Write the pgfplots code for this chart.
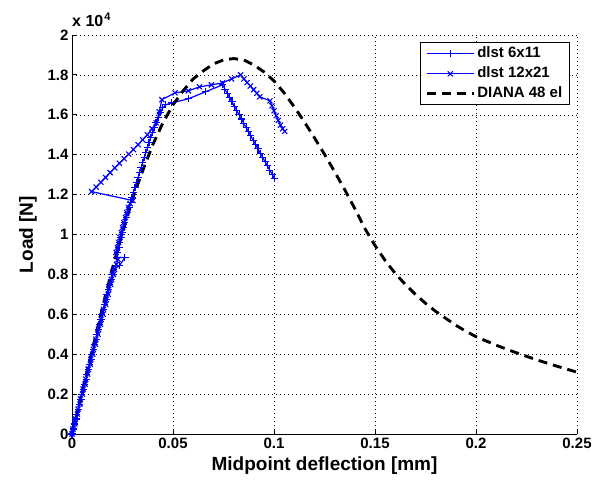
\documentclass[border=0pt]{standalone}
\usepackage{fontspec}
\setmainfont{Liberation Sans}
\usepackage{pgfplots}
\pgfplotsset{compat=1.18}
\definecolor{mblue}{RGB}{0,0,255}

\begin{document}
\begin{tikzpicture}
\begin{axis}[
    scale only axis, width=505pt, height=399pt,
    xmin=0, xmax=0.25, ymin=0, ymax=20000,
    scaled x ticks=false, scaled y ticks=false,
    axis x line=bottom, axis y line=left, axis line style={-, line width=0.8pt},
    tick align=inside, major tick length=5pt, tick style={black, line width=0.8pt},
    xtick={0,0.05,0.1,0.15,0.2,0.25},
    xticklabels={0,0.05,0.1,0.15,0.2,0.25},
    ytick={0,2000,4000,6000,8000,10000,12000,14000,16000,18000,20000},
    yticklabels={0,0.2,0.4,0.6,0.8,1,1.2,1.4,1.6,1.8,2},
    tick label style={font=\bfseries\fontsize{15}{17}\selectfont},
    grid=major,
    grid style={black, line width=0.6pt, dash pattern=on 0.6pt off 3.4pt},
    xlabel={Midpoint deflection [mm]},
    ylabel={Load [N]},
    label style={font=\bfseries\fontsize{19}{22}\selectfont},
    xlabel style={at={(axis description cs:0.5,0)}, anchor=base, yshift=-36pt},
    ylabel style={at={(axis description cs:-0.087,0.5)}, anchor=center},
    legend style={font=\bfseries\fontsize{15}{17}\selectfont, draw=black, line width=1.3pt,
        at={(0.986,0.982)}, anchor=north east, inner xsep=5pt, inner ysep=1pt,
        nodes={text height=11pt, text depth=3pt, inner ysep=3pt, inner xsep=2pt},
        cells={anchor=west}},
    legend image code/.code={\draw[mark repeat=2,mark phase=2,#1] plot coordinates {(0pt,0pt) (23.5pt,0pt) (47pt,0pt)};},
]
% dlst 6x11
\addplot[mblue, line width=1.2pt, mark=+, mark size=3.6pt, mark options={solid, line width=1.1pt}] coordinates {
(0,0) (0.0008,250) (0.0011,500) (0.0020,750) (0.0023,1000) (0.0033,1250)
(0.0036,1500) (0.0045,1750) (0.0048,2000) (0.0058,2250) (0.0060,2500)
(0.0070,2750) (0.0072,3000) (0.0082,3250) (0.0085,3500) (0.0095,3750)
(0.0097,4000) (0.0107,4250) (0.0110,4500) (0.0120,4750) (0.0122,5000)
(0.0132,5250) (0.0135,5500) (0.0144,5750) (0.0147,6000) (0.0157,6250)
(0.0160,6500) (0.0169,6750) (0.0172,7000) (0.0182,7250) (0.0185,7500)
(0.0194,7750) (0.0198,8000) (0.0206,8250) (0.0236,8450) (0.0262,8850)
(0.0222,8850) (0.0227,9100) (0.0233,9350) (0.0236,9600) (0.0243,9850)
(0.0249,10100) (0.0256,10350) (0.0261,10600) (0.0269,10850) (0.0275,11100)
(0.0283,11350) (0.0289,11600) (0.0297,11850) (0.0303,12100) (0.0312,12350)
(0.0318,12600) (0.0327,12850) (0.0334,13100) (0.0342,13350) (0.0349,13600)
(0.0358,13850) (0.0365,14100) (0.0374,14350) (0.0381,14600) (0.0390,14850)
(0.0398,15100) (0.0408,15350) (0.0416,15600) (0.0427,15850) (0.0437,16100)
(0.0450,16350) (0.0465,16500) (0.0494,16600) (0.0576,16800) (0.0660,17150)
(0.0745,17500) (0.0757,17290) (0.0768,17070) (0.0780,16860) (0.0792,16650)
(0.0803,16430) (0.0815,16220) (0.0827,16000) (0.0839,15790) (0.0850,15580)
(0.0862,15360) (0.0874,15150) (0.0885,14940) (0.0897,14720) (0.0909,14510)
(0.0921,14290) (0.0932,14080) (0.0944,13870) (0.0956,13650) (0.0967,13440)
(0.0979,13230) (0.0991,13010) (0.1003,12800)
};
\addlegendentry{dlst 6x11}
% dlst 12x21
\addplot[mblue, line width=1.2pt, mark=x, mark size=3.6pt, mark options={solid, line width=1.1pt}] coordinates {
(0,0) (0.0005,250) (0.0014,500) (0.0017,750) (0.0027,1000) (0.0030,1250)
(0.0040,1500) (0.0042,1750) (0.0052,2000) (0.0055,2250) (0.0065,2500)
(0.0068,2750) (0.0078,3000) (0.0080,3250) (0.0091,3500) (0.0093,3750)
(0.0103,4000) (0.0106,4250) (0.0116,4500) (0.0118,4750) (0.0129,5000)
(0.0131,5250) (0.0141,5500) (0.0144,5750) (0.0154,6000) (0.0156,6250)
(0.0167,6500) (0.0169,6750) (0.0179,7000) (0.0182,7250) (0.0192,7500)
(0.0195,7750) (0.0205,8000) (0.0211,8250) (0.0220,8500) (0.0228,8750)
(0.0218,9100) (0.0225,9350) (0.0231,9600) (0.0238,9850) (0.0244,10100)
(0.0251,10350) (0.0257,10600) (0.0264,10850) (0.0271,11100) (0.0279,11350)
(0.0288,11550) (0.0302,11700) (0.0097,12150)
(0.0120,12380) (0.0143,12620) (0.0166,12860) (0.0189,13100) (0.0212,13340)
(0.0235,13570) (0.0258,13800) (0.0281,14030) (0.0304,14260) (0.0327,14500)
(0.0350,14750) (0.0373,15000) (0.0396,15300) (0.0417,15600) (0.0432,16150)
(0.0445,16760) (0.0510,17100) (0.0576,17200) (0.0631,17400) (0.0690,17500)
(0.0745,17600) (0.0790,17800) (0.0835,18000) (0.0851,17800) (0.0867,17620)
(0.0883,17440) (0.0899,17260) (0.0915,17080) (0.0930,16900) (0.0980,16700)
(0.0990,16450) (0.1000,16200) (0.1011,15960) (0.1021,15720) (0.1032,15480)
(0.1043,15300) (0.1053,15170)
};
\addlegendentry{dlst 12x21}
% DIANA 48 el
\addplot[black, line width=2.9pt, dash pattern=on 9pt off 6pt] coordinates {
(0,0) (0.005,2100) (0.01,4200) (0.015,6300) (0.02,8300) (0.025,10100)
(0.03,11800) (0.035,13200) (0.04,14500) (0.045,15600) (0.05,16500)
(0.055,17200) (0.06,17800) (0.065,18200) (0.07,18550) (0.075,18750)
(0.08,18820) (0.085,18750) (0.09,18500) (0.095,18150) (0.1,17700)
(0.105,17100) (0.11,16400) (0.115,15650) (0.12,14850) (0.125,14020)
(0.13,13150) (0.135,12250) (0.14,11300) (0.145,10300) (0.15,9450)
(0.155,8700) (0.16,8050) (0.165,7500) (0.17,7000) (0.175,6550)
(0.18,6150) (0.185,5800) (0.19,5450) (0.195,5150) (0.2,4880)
(0.21,4450) (0.22,4070) (0.23,3720) (0.24,3400) (0.25,3100)
};
\addlegendentry{DIANA 48 el}
\end{axis}
\node[anchor=base west, font=\bfseries\fontsize{16}{18}\selectfont, inner sep=0pt]
    at ([yshift=8pt]current axis.north west) {x 10\kern1pt\raisebox{0.75ex}{\fontsize{11}{11}\selectfont 4}};
\path ([shift={(-72pt,-46pt)}]current axis.south west) rectangle ([shift={(25pt,35pt)}]current axis.north east);
\end{tikzpicture}
\end{document}
